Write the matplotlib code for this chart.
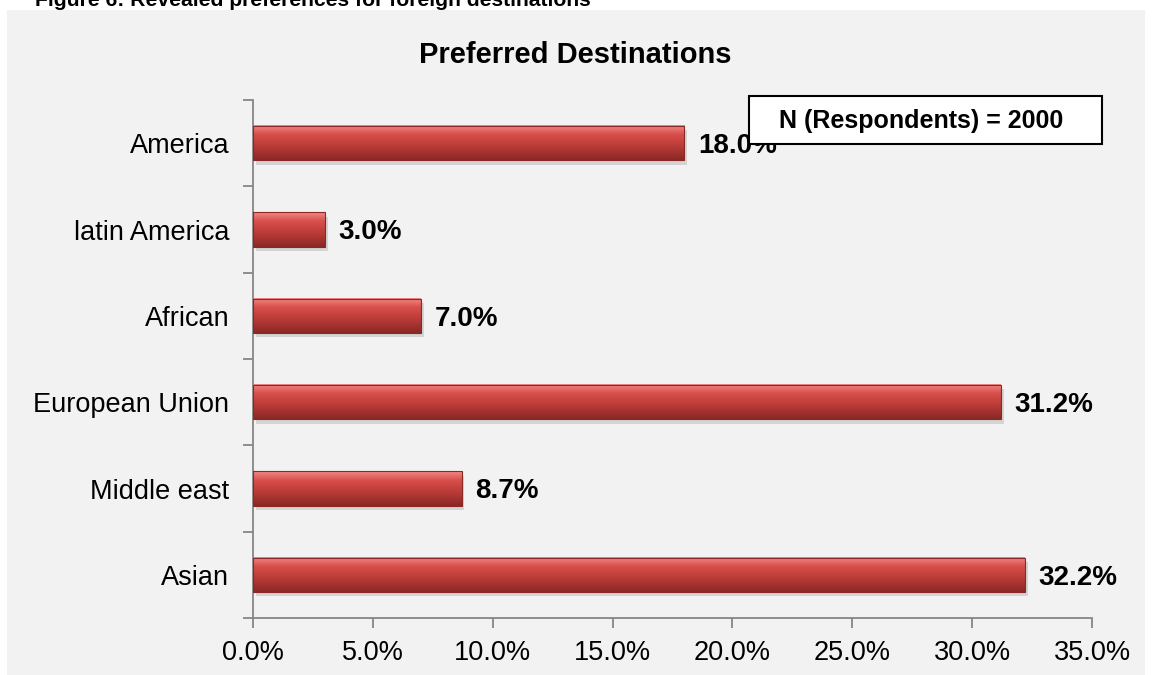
import numpy as np
import matplotlib.pyplot as plt
from matplotlib.colors import LinearSegmentedColormap
from matplotlib.patches import Rectangle

plt.rcParams['font.family'] = ['Liberation Sans', 'DejaVu Sans']

# data (top to bottom as shown)
categories = ['America', 'latin America', 'African', 'European Union', 'Middle east', 'Asian']
shares = [18.0, 3.0, 7.0, 31.2, 8.7, 32.2]
x_ticks = [0, 5, 10, 15, 20, 25, 30, 35]

caption = 'Figure 6: Revealed preferences for foreign destinations'
title = 'Preferred Destinations'
note = 'N (Respondents) = 2000'

fig = plt.figure(figsize=(11.55, 6.75), dpi=100)
fig.patch.set_facecolor('white')

# gray chart panel
fig.add_artist(Rectangle((7 / 1155, 0), 1138 / 1155, 1 - 10 / 675,
                         transform=fig.transFigure, facecolor='#F2F2F2',
                         edgecolor='none', zorder=0))

# caption cut off by the top edge
fig.text(35 / 1155, 1 - 6 / 675, caption, fontsize=15.2, fontweight='bold',
         va='baseline', ha='left')

ax = fig.add_axes([253 / 1155, 1 - 618 / 675, 839 / 1155, 518 / 675])
ax.set_facecolor('none')

bar_h = 0.4
grad = LinearSegmentedColormap.from_list(
    'bar', ['#F08A86', '#D9504C', '#C4403D', '#A83431', '#8A2826'])
g = np.linspace(0, 1, 64).reshape(-1, 1)

for i, v in enumerate(shares):
    # soft shadow
    ax.barh(i + 0.05, v, height=bar_h, left=0.12, color='#000000',
            alpha=0.12, zorder=1)
    ax.imshow(g, cmap=grad, aspect='auto', origin='upper',
              extent=(0, v, i + bar_h / 2, i - bar_h / 2), zorder=2)
    ax.barh(i, v, height=bar_h, facecolor='none', edgecolor='#8A2826',
            linewidth=0.8, zorder=3)
    ax.annotate(f'{v:.1f}%', xy=(v, i), xytext=(10, -2),
                textcoords='offset points', va='center', ha='left',
                fontsize=20, fontweight='bold', zorder=4)

ax.set_xlim(0, 35)
ax.set_ylim(len(categories) - 0.5, -0.5)

ax.set_xticks(x_ticks)
ax.set_xticklabels([f'{t:.1f}%' for t in x_ticks], fontsize=19.5)
ax.set_yticks(np.arange(len(categories) + 1) - 0.5)
ax.set_yticklabels([])
ax.set_yticks(np.arange(len(categories)), minor=True)
ax.set_yticklabels(categories, minor=True, fontsize=19.5)

ax.tick_params(axis='x', direction='out', length=7, color='#868686',
               width=1.3, pad=9)
ax.tick_params(axis='y', which='major', direction='out', length=7,
               color='#868686', width=1.3)
ax.tick_params(axis='y', which='minor', length=0, pad=17)

for s in ['top', 'right']:
    ax.spines[s].set_visible(False)
for s in ['left', 'bottom']:
    ax.spines[s].set_color('#868686')
    ax.spines[s].set_linewidth(1.3)

fig.text(575 / 1155, 1 - 55 / 675, title, fontsize=21, fontweight='bold',
         ha='center', va='center')

# note box
fig.add_artist(Rectangle((749 / 1155, 1 - 144 / 675), 353 / 1155, 48 / 675,
                         transform=fig.transFigure, facecolor='white',
                         edgecolor='black', linewidth=1.5, zorder=5))
fig.text(921 / 1155, 1 - 121 / 675, note, fontsize=18, fontweight='bold',
         ha='center', va='center', zorder=6)

fig.savefig('out.png', dpi=100)
